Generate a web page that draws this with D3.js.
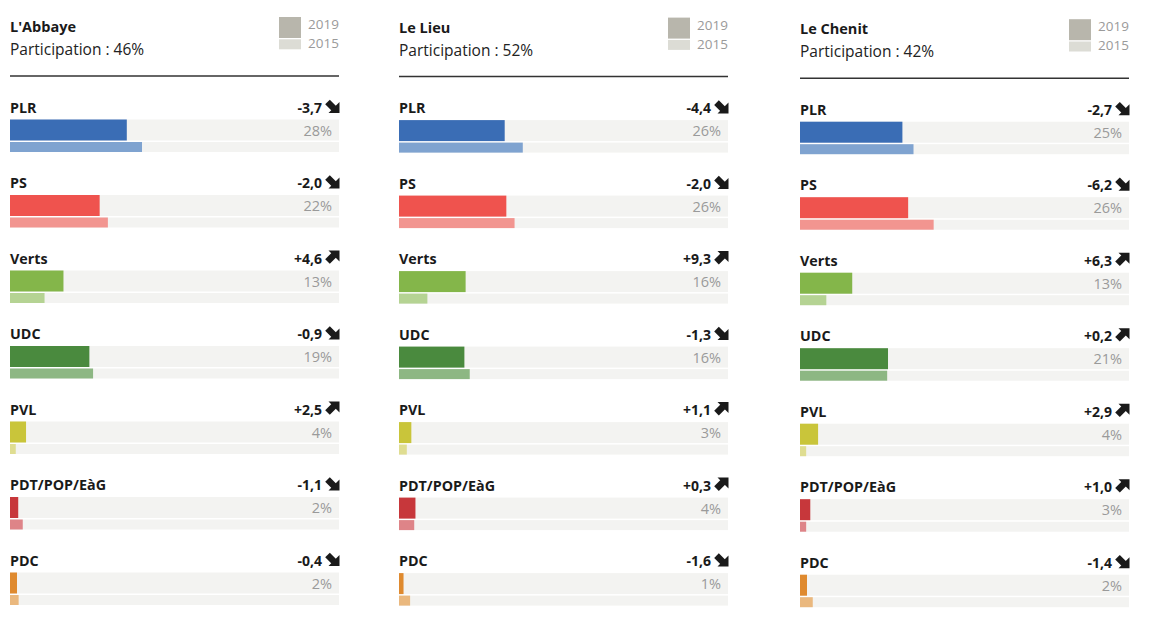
<!DOCTYPE html>
<html>
<head>
<meta charset="utf-8">
<script src="https://cdn.jsdelivr.net/npm/d3@7"></script>
<style>
  html, body { margin: 0; padding: 0; background: #ffffff; }
  svg { display: block; }
  text { font-family: "Open Sans", "Noto Sans", sans-serif; }
</style>
</head>
<body>
<svg id="chart" width="1170" height="621"></svg>
<script>
// ---- DATA ----
const communes = ["L'Abbaye", "Le Lieu", "Le Chenit"];
const participation = [46, 52, 42];
const parties = ["PLR", "PS", "Verts", "UDC", "PVL", "PDT/POP/EàG", "PDC"];
const years = ["2019", "2015"];
// vote share (%) per commune, in the order of `parties`
const share2019 = [
  [28.4, 21.8, 13.0, 19.3, 3.9, 2.0, 1.7],
  [25.7, 26.1, 16.2, 15.9, 3.0, 4.0, 1.1],
  [24.9, 26.3, 12.7, 21.4, 4.4, 2.5, 1.7]
];
const share2015 = [
  [32.1, 23.8, 8.4, 20.2, 1.4, 3.1, 2.1],
  [30.1, 28.1, 6.9, 17.2, 1.9, 3.7, 2.7],
  [27.6, 32.5, 6.4, 21.2, 1.5, 1.5, 3.1]
];
const change = [
  [-3.7, -2.0, 4.6, -0.9, 2.5, -1.1, -0.4],
  [-4.4, -2.0, 9.3, -1.3, 1.1, 0.3, -1.6],
  [-2.7, -6.2, 6.3, 0.2, 2.9, 1.0, -1.4]
];
const colors2019 = ["#3a6db5", "#ef534e", "#84b64a", "#4a8a3e", "#c9c53a", "#c7373b", "#df8a2f"];
const colors2015 = ["#7fa3d0", "#f29590", "#b5d393", "#8db783", "#dfdd91", "#de8488", "#eab87e"];

// ---- LAYOUT ----
const panelX = [10, 399, 800];
const panelDY = [0, 0.6, 2.2];
const panelW = 329;
const rowTop = 112.5;   // baseline of first party label
const rowPitch = 75.5;

const svg = d3.select("#chart");
const x = d3.scaleLinear().domain([0, 80]).range([0, panelW]);
const rowY = d3.scaleLinear().domain([0, 1]).range([rowTop, rowTop + rowPitch]);
const fmtPct = d3.format(".0f");
const fmtChange = v => (v >= 0 ? "+" : "-") + d3.format(".1f")(Math.abs(v)).replace(".", ",");

communes.forEach((name, ci) => {
  const g = svg.append("g").attr("transform", `translate(${panelX[ci]},${panelDY[ci]})`);

  // header
  g.append("text").attr("x", 0).attr("y", 32)
    .attr("font-size", 14.5).attr("font-weight", 700).attr("fill", "#1a1a1a")
    .text(name);
  g.append("text").attr("x", 0).attr("y", 55)
    .attr("font-size", 15.5).attr("fill", "#222")
    .text(`Participation : ${participation[ci]}%`);

  // legend
  const lg = g.append("g").attr("transform", `translate(${panelW - 60},0)`);
  lg.append("rect").attr("x", 0).attr("y", 17).attr("width", 22).attr("height", 21).attr("fill", "#b8b6ac");
  lg.append("rect").attr("x", 0).attr("y", 39.3).attr("width", 22).attr("height", 10).attr("fill", "#dcdcd5");
  lg.selectAll("text.leg").data(years).join("text")
    .attr("class", "leg")
    .attr("x", 60).attr("y", (d, i) => 29 + i * 19.3)
    .attr("text-anchor", "end")
    .attr("font-size", 13.5).attr("fill", "#9a9a9a")
    .text(d => d);

  // separator
  g.append("line").attr("x1", 0).attr("x2", panelW).attr("y1", 76).attr("y2", 76)
    .attr("stroke", "#333").attr("stroke-width", 1.5);

  // rows
  const rows = g.selectAll("g.row").data(parties).join("g")
    .attr("class", "row")
    .attr("transform", (d, i) => `translate(0,${rowY(i)})`);

  rows.append("text").attr("x", 0).attr("y", 0)
    .attr("font-size", 14.3).attr("font-weight", 700).attr("fill", "#1a1a1a")
    .text(d => d);

  // tracks
  rows.append("rect").attr("x", 0).attr("y", 7).attr("width", x(80)).attr("height", 21).attr("fill", "#f3f3f1");
  rows.append("rect").attr("x", 0).attr("y", 29.5).attr("width", x(80)).attr("height", 10).attr("fill", "#f3f3f1");

  // bars
  rows.append("rect").attr("x", 0).attr("y", 7)
    .attr("width", (d, i) => x(share2019[ci][i])).attr("height", 21)
    .attr("fill", (d, i) => colors2019[i]);
  rows.append("rect").attr("x", 0).attr("y", 29.5)
    .attr("width", (d, i) => x(share2015[ci][i])).attr("height", 10)
    .attr("fill", (d, i) => colors2015[i]);

  // percentage label
  rows.append("text").attr("x", panelW - 7).attr("y", 23.2)
    .attr("text-anchor", "end").attr("font-size", 14.5).attr("fill", "#9a9a9a")
    .text((d, i) => fmtPct(share2019[ci][i]) + "%");

  // change label
  rows.append("text").attr("x", panelW - 17).attr("y", 0)
    .attr("text-anchor", "end").attr("font-size", 14).attr("font-weight", 700).attr("fill", "#1a1a1a")
    .text((d, i) => fmtChange(change[ci][i]));

  // arrow icon
  const arr = rows.append("g")
    .attr("transform", (d, i) => change[ci][i] >= 0
      ? `translate(${panelW - 14},0.5) scale(1,-1)`
      : `translate(${panelW - 14},-13)`);
  arr.append("line").attr("x1", 2.5).attr("y1", 2.5).attr("x2", 9).attr("y2", 9)
    .attr("stroke", "#1a1a1a").attr("stroke-width", 6.5);
  arr.append("path").attr("d", "M14.5,13.5 L14.5,2.5 L3.5,13.5 Z").attr("fill", "#1a1a1a");
});
</script>
</body>
</html>
